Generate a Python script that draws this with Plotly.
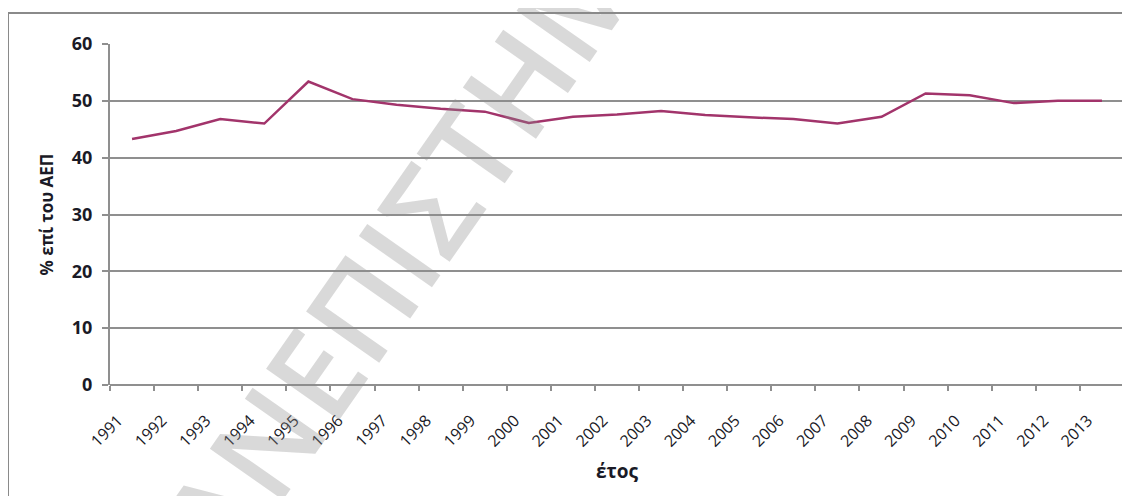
import plotly.graph_objects as go

years = [str(y) for y in range(1991, 2014)]
values = [43.3, 44.7, 46.8, 46.0, 53.4, 50.3, 49.3, 48.6, 48.1, 46.1, 47.2, 47.6,
          48.2, 47.5, 47.1, 46.8, 46.0, 47.2, 51.3, 51.0, 49.6, 50.0, 50.0]
y_ticks = [0, 10, 20, 30, 40, 50, 60]

# the page body has an 8px margin; figure coords = page coords - 8
OFF = 8
W, H = 1122, 488
L, R, T, B = 102, 6, 36, 111
pw, ph = W - L - R, H - T - B

def px_x(p):  # page pixel -> paper
    return (p - OFF - L) / pw

def px_y(p):
    return (H - B - (p - OFF)) / ph

xpos = [i + 0.5 for i in range(len(years))]
tickvals = list(range(len(years) + 1))
ticktext = years + [""]

fig = go.Figure()
fig.add_trace(go.Scatter(
    x=xpos, y=values, mode="lines",
    line=dict(color="#A2346B", width=2.5),
    showlegend=False, hoverinfo="skip",
))

grid = "#8f8f8f"
txt = "#1a1a26"
fig.update_layout(
    width=W, height=H,
    margin=dict(l=L, r=R, t=T, b=B, autoexpand=False),
    paper_bgcolor="white", plot_bgcolor="white",
    font=dict(family="Open Sans", color=txt),
    xaxis=dict(
        range=[0, len(years)], tickmode="array", tickvals=tickvals, ticktext=ticktext,
        tickangle=-45, ticks="outside", ticklen=5, tickcolor=grid, tickwidth=1.5,
        showgrid=False, zeroline=False, showline=False,
        tickfont=dict(size=16, color=txt, weight=500),
        ticklabelshift=8, ticklabelstandoff=14,
        title=dict(text="<b>έτος</b>", font=dict(size=19), standoff=14),
    ),
    yaxis=dict(
        range=[0, 60], tickmode="array", tickvals=y_ticks,
        ticks="outside", ticklen=6, tickcolor=grid, tickwidth=1.5,
        showgrid=True, gridcolor=grid, gridwidth=1.5,
        zeroline=False, showline=True, linecolor=grid, linewidth=2,
        tickfont=dict(size=18, color=txt, weight="bold"),
        ticklabelstandoff=6,
        title=dict(text="<b>% επί του ΑΕΠ</b>", font=dict(size=17), standoff=14),
    ),
)

# x-axis baseline
fig.add_shape(type="line", xref="paper", yref="paper", x0=0, x1=1, y0=0, y1=0,
              line=dict(color=grid, width=2), layer="above")

# outer chart border (partly cropped in the reference)
fig.add_shape(type="rect", xref="paper", yref="paper",
              x0=px_x(8), x1=px_x(1160), y0=px_y(540), y1=px_y(13),
              line=dict(color="#8a8a8a", width=2), fillcolor="rgba(0,0,0,0)", layer="above")

# watermark
fig.add_annotation(xref="paper", yref="paper", x=px_x(412), y=px_y(232),
                   xanchor="center", yanchor="middle",
                   text="ΠΑΝΕΠΙΣΤΗΜΙΟ", showarrow=False, textangle=-55,
                   font=dict(family="Open Sans", size=125, weight=600,
                             color="rgba(140,140,140,0.33)"))

fig.write_html("out.html")
